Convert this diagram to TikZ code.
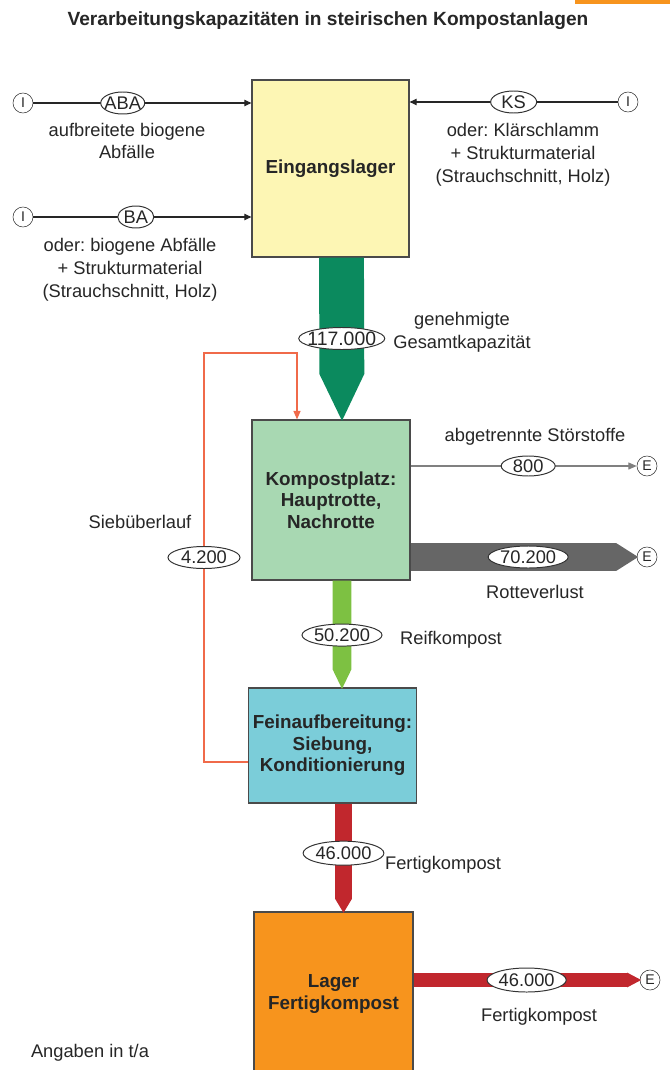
\documentclass[tikz,border=0pt]{standalone}
\usepackage{fontspec}
\setmainfont{Liberation Sans}
\frenchspacing
\usetikzlibrary{arrows.meta,shapes.geometric,calc,positioning}

\definecolor{boxline}{HTML}{4A4A4A}
\definecolor{eingfill}{HTML}{FDF6B4}
\definecolor{kompfill}{HTML}{A8D8B2}
\definecolor{feinfill}{HTML}{7BCDD9}
\definecolor{lagerfill}{HTML}{F7941D}
\definecolor{dkgreen}{HTML}{0B8A5E}
\definecolor{ltgreen}{HTML}{7DC142}
\definecolor{fred}{HTML}{C1272D}
\definecolor{fgray}{HTML}{666666}
\definecolor{retour}{HTML}{F06A4A}

\tikzset{
  box/.style={draw=boxline,line width=0.8pt,align=center,font=\fontsize{13.4}{15.2}\selectfont\bfseries},
  val/.style={ellipse,draw=black!80,fill=white,text=black!85,line width=0.7pt,inner sep=0pt,minimum height=0.55cm,
    execute at begin node={\hbox to 0pt\bgroup\hss},execute at end node={\hss\egroup}},
  term/.style={circle,draw=black!80,fill=white,inner sep=0pt,minimum size=0.5cm,font=\fontsize{10}{12}\selectfont},
  lbl/.style={align=center},
  feed/.style={draw=black!85,line width=0.8pt,-{Triangle[length=5pt,width=4.5pt]}},
  flow/.style 2 args={line width=#1,-{Triangle[line width=0pt,width=#1,length=#2,sep=-1pt]}},
}

\begin{document}
\begin{tikzpicture}[x=0.025cm,y=-0.025cm,font=\fontsize{13}{16.3}\selectfont,text=black!85]
\clip (0,0) rectangle (670,1070);
\fill[lagerfill] (575,0) rectangle (670,4);
\node[font=\fontsize{13.6}{16}\selectfont\bfseries] (title) at (328,21) {Verarbeitungskapazitäten in steirischen Kompostanlagen};

% Anlagenteile
\node[box,fill=eingfill,minimum width=3.925cm,minimum height=4.425cm] (eing) at (330.5,168.5) {Eingangslager};
\node[box,fill=kompfill,minimum width=3.95cm,minimum height=4cm] (komp) at (331,500) {Kompostplatz:\\Hauptrotte,\\Nachrotte};
\node[box,fill=feinfill,minimum width=4.175cm,minimum height=2.875cm] (fein) at (332.5,745.5) {Feinaufbereitung:\\Siebung,\\Konditionierung};
\node[box,fill=lagerfill,minimum width=3.975cm,minimum height=4.1cm] (lager) at (333.5,994) {Lager\\Fertigkompost};

% Input
\node[term] (i1) at (23,103) {I};
\node[term] (i2) at (23,217) {I};
\node[term] (i3) at (628,102) {I};
\draw[feed] (i1) -- node[val,minimum width=1.1cm,pos=0.41]{ABA} (eing.west |- i1);
\draw[feed] (i2) -- node[val,minimum width=0.9cm,pos=0.47]{BA} (eing.west |- i2);
\draw[feed] (i3) -- node[val,minimum width=1.15cm,pos=0.5]{KS} (eing.east |- i3);
\node[lbl] (t1) at (127,141) {aufbreitete biogene\\Abfälle};
\node[lbl] (t2) at (130,269.5) {oder: biogene Abfälle\\+ Strukturmaterial\\(Strauchschnitt, Holz)};
\node[lbl] (t3) at (523,155) {oder: Klärschlamm\\+ Strukturmaterial\\(Strauchschnitt, Holz)};

% Output
\node[term] (e1) at (647,466) {E};
\node[term] (e2) at (647,557) {E};
\node[term] (e3) at (650,980) {E};

% Siebueberlauf
\coordinate (sbtop) at (204,353);
\draw[retour,line width=0.8pt,-{Triangle[length=6pt,width=5pt]}] ($(fein.west)+(0,16.5)$) -| (sbtop)
  node[val,minimum width=1.8cm,pos=0.75]{4.200} -| ($(komp.north)+(-34,0)$);
\node (t4) at (140,522) {Siebüberlauf};

% Stoffstroeme
\draw[dkgreen,flow={31.9pt}{33.3pt}] ($(eing.south)+(11,0)$) -- node[val,minimum width=2.15cm,pos=0.5,font=\fontsize{13.8}{16}\selectfont]{117.000} ($(komp.north)+(11,0)$);
\node[lbl] (t5) at (462,332) {genehmigte\\Gesamtkapazität};

\draw[black!50,line width=0.8pt,-{Triangle[length=6pt,width=5pt]}] (komp.east |- e1) -- node[val,minimum width=1.35cm,minimum height=0.5cm,pos=0.52]{800} (e1);
\node (t6) at (535,437) {abgetrennte Störstoffe};

\draw[fgray,flow={19.8pt}{15.6pt}] (komp.east |- e2) -- node[val,minimum width=2cm,pos=0.52]{70.200} (e2);
\node (t7) at (535,592) {Rotteverlust};

\draw[ltgreen,flow={13.5pt}{14pt}] ($(komp.south)+(11,0)$) -- node[val,minimum width=2cm,pos=0.51]{50.200} ($(fein.north)+(9.5,0)$);
\node (t8) at (451,640) {Reifkompost};

\draw[fred,flow={12pt}{10pt}] ($(fein.south)+(11,0)$) -- node[val,minimum width=2.02cm,minimum height=0.6cm,pos=0.46]{46.000} ($(lager.north)+(10,0)$);
\node (t9) at (443,865) {Fertigkompost};

\draw[fred,flow={10.6pt}{10pt}] (lager.east |- e3) -- node[val,minimum width=1.98cm,minimum height=0.6cm,pos=0.5]{46.000} (e3);
\node (t10) at (539,1017) {Fertigkompost};

\node (t11) at (90,1053) {Angaben in t/a};
\end{tikzpicture}
\end{document}
